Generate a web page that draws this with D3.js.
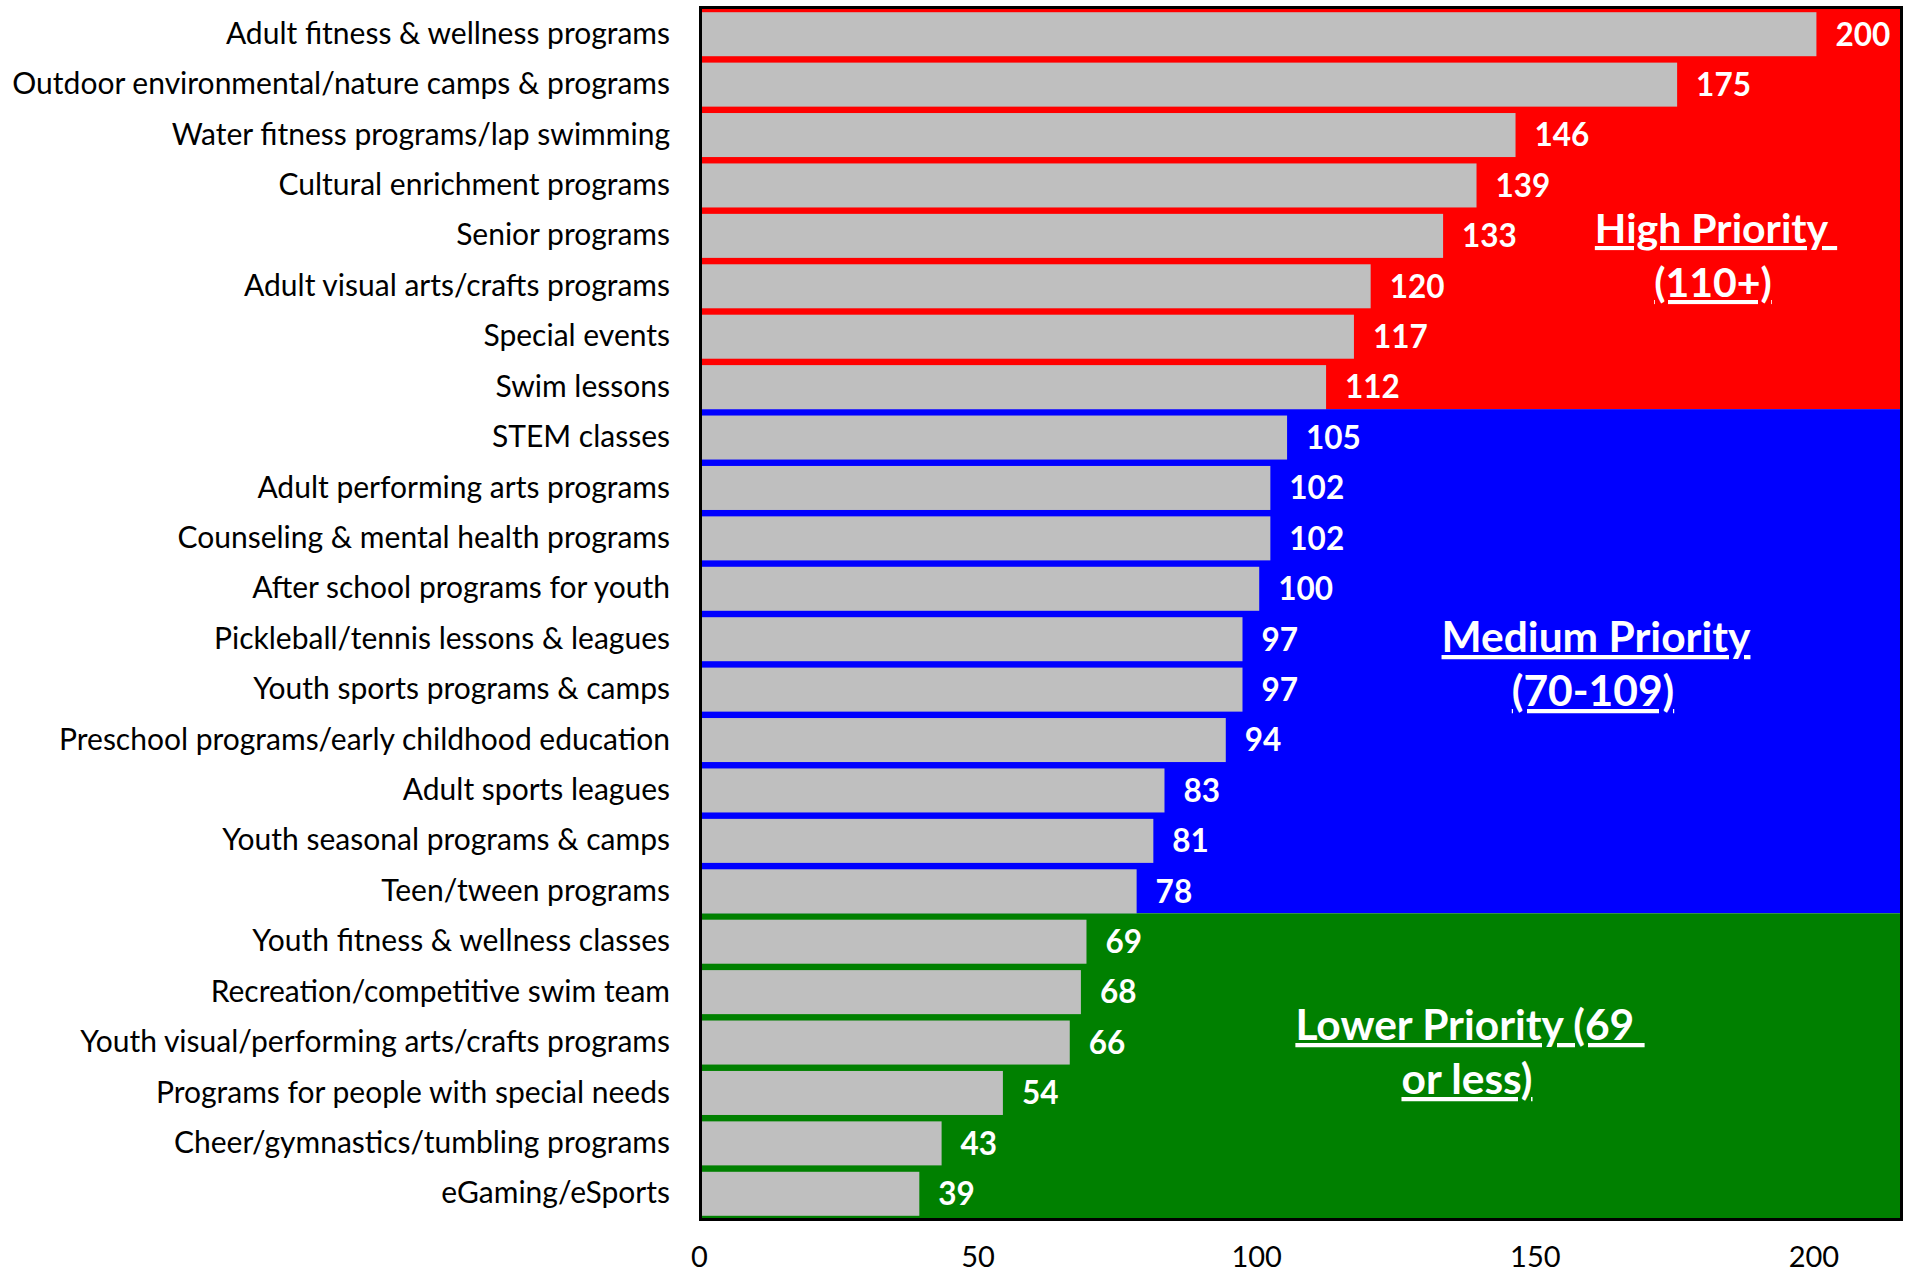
<!DOCTYPE html>
<html>
<head>
<meta charset="utf-8">
<script src="https://cdn.jsdelivr.net/npm/d3@7"></script>
<style>
  html, body { margin: 0; padding: 0; background: #fff; }
  svg { display: block; }
  text { font-family: Lato, "Open Sans", sans-serif; }
</style>
</head>
<body>
<svg id="chart" width="1908" height="1273"></svg>
<script>
// ---- data ----
const categories = [
  "Adult fitness & wellness programs",
  "Outdoor environmental/nature camps & programs",
  "Water fitness programs/lap swimming",
  "Cultural enrichment programs",
  "Senior programs",
  "Adult visual arts/crafts programs",
  "Special events",
  "Swim lessons",
  "STEM classes",
  "Adult performing arts programs",
  "Counseling & mental health programs",
  "After school programs for youth",
  "Pickleball/tennis lessons & leagues",
  "Youth sports programs & camps",
  "Preschool programs/early childhood education",
  "Adult sports leagues",
  "Youth seasonal programs & camps",
  "Teen/tween programs",
  "Youth fitness & wellness classes",
  "Recreation/competitive swim team",
  "Youth visual/performing arts/crafts programs",
  "Programs for people with special needs",
  "Cheer/gymnastics/tumbling programs",
  "eGaming/eSports"
];
const values = [200,175,146,139,133,120,117,112,105,102,102,100,97,97,94,83,81,78,69,68,66,54,43,39];
const tickValues = [0, 50, 100, 150, 200];
const tierNames = ["High", "Medium", "Lower"];
const tierMin = [110, 70, 0];
const tierLabelLine1 = ["High Priority ", "Medium Priority", "Lower Priority (69 "];
const tierLabelLine2 = ["(110+)", "(70-109)", "or less)"];
const tierColors = ["#FF0000", "#0000FF", "#008000"];

// ---- layout ----
const plot = { left: 702, right: 1900, top: 9, bottom: 1219 };
const svg = d3.select("#chart");

const x = d3.scaleLinear().domain([0, 215]).range([plot.left, plot.right]);
const y = d3.scaleBand().domain(categories).range([plot.top, plot.bottom])
  .paddingInner(0.127).paddingOuter(0.0635);

const data = categories.map((c, i) => ({ cat: c, v: values[i] }));
const tierOf = v => tierMin.findIndex(m => v >= m);

// tier background regions
const tiers = tierNames.map((name, t) => {
  const members = data.filter(d => tierOf(d.v) === t);
  return { name, t, first: members[0], last: members[members.length - 1] };
});
tiers.forEach((tr, t) => {
  const y0 = t === 0 ? plot.top : y(tiers[t - 1].last.cat) + y.bandwidth();
  const y1 = t === tiers.length - 1 ? plot.bottom : y(tr.last.cat) + y.bandwidth();
  svg.append("rect")
    .attr("x", plot.left).attr("y", y0)
    .attr("width", plot.right - plot.left).attr("height", y1 - y0)
    .attr("fill", tierColors[t]);
});

// bars
svg.append("g").selectAll("rect").data(data).join("rect")
  .attr("x", x(0))
  .attr("y", d => y(d.cat))
  .attr("width", d => x(d.v) - x(0))
  .attr("height", y.bandwidth())
  .attr("fill", "#BFBFBF");

// value labels
svg.append("g").selectAll("text").data(data).join("text")
  .attr("x", d => x(d.v) + 19)
  .attr("y", d => y(d.cat) + y.bandwidth() / 2)
  .attr("dy", "0.36em")
  .attr("fill", "#fff")
  .attr("font-weight", "bold")
  .attr("font-size", 31.5)
  .text(d => d.v);

// plot border
svg.append("rect")
  .attr("x", plot.left - 1.5).attr("y", plot.top - 1.5)
  .attr("width", plot.right - plot.left + 3).attr("height", plot.bottom - plot.top + 2)
  .attr("fill", "none").attr("stroke", "#000").attr("stroke-width", 3);

// category axis labels
const yAxis = d3.axisLeft(y).tickSize(0).tickPadding(32);
const gy = svg.append("g").attr("transform", `translate(${plot.left},0)`).call(yAxis);
gy.select(".domain").remove();
gy.selectAll("text")
  .attr("font-family", "Lato, sans-serif")
  .attr("font-size", 30)
  .attr("fill", "#000");

// x axis labels
const xAxis = d3.axisBottom(x).tickValues(tickValues).tickSize(0).tickPadding(0);
const gx = svg.append("g").attr("transform", `translate(-3,1246)`).call(xAxis);
gx.select(".domain").remove();
gx.selectAll("text")
  .attr("font-family", "Lato, sans-serif")
  .attr("font-size", 29)
  .attr("fill", "#000")
  .attr("dy", "0.72em");

// tier titles
const titleCx = [1716, 1596, 1470];
const titleBase = [243, 652, 1040];
const titleSize = [41, 42.5, 42.5];
tiers.forEach((tr, t) => {
  const g = svg.append("text")
    .attr("fill", "#fff")
    .attr("font-weight", "bold")
    .attr("font-size", titleSize[t])
    .attr("text-anchor", "middle")
    .style("white-space", "pre")
    .style("text-decoration", "underline");
  g.append("tspan").attr("x", titleCx[t]).attr("y", titleBase[t]).text(tierLabelLine1[t]);
  g.append("tspan").attr("x", titleCx[t] - 3).attr("y", titleBase[t] + 54).text(tierLabelLine2[t]);
});
</script>
</body>
</html>
